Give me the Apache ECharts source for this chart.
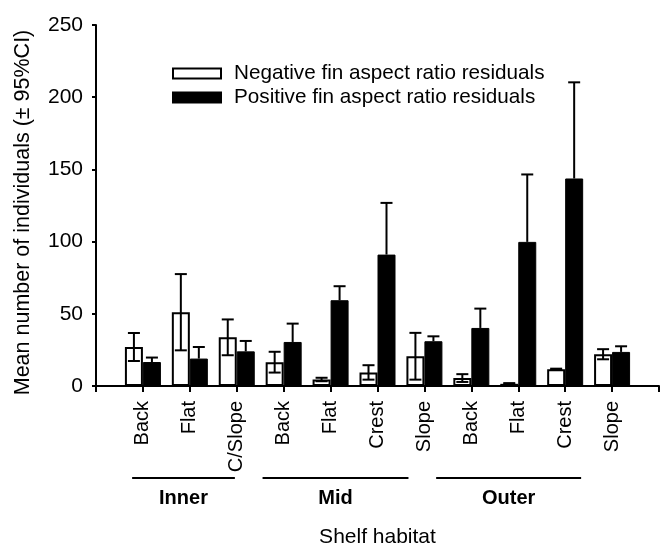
<!DOCTYPE html>
<html>
<head>
<meta charset="utf-8">
<script src="https://cdn.jsdelivr.net/npm/echarts@6/dist/echarts.min.js"></script>
<style>
html,body{margin:0;padding:0;background:#fff;}
#main{width:667px;height:549px;}
</style>
</head>
<body>
<div id="main"></div>
<script>
// Categories (padded with blank slots at both ends)
var categories = ['', 'Back', 'Flat', 'C/Slope', 'Back', 'Flat', 'Crest', 'Slope', 'Back', 'Flat', 'Crest', 'Slope', ''];
var negativeMeans = [27.0, 51.1, 33.7, 16.5, 4.5, 9.4, 20.6, 5.5, 1.5, 11.6, 22.0];
var negativeCI    = [9.7, 26.4, 12.4, 7.2, 1.2, 5.0, 16.2, 2.7, 0.5, 0.4, 3.5];
var positiveMeans = [16.6, 19.0, 24.0, 30.5, 59.4, 91.0, 31.0, 40.2, 99.8, 143.7, 23.6];
var positiveCI    = [3.1, 8.0, 7.2, 12.7, 9.7, 35.8, 3.4, 13.4, 46.7, 66.6, 3.9];
var yTicks = [0, 50, 100, 150, 200, 250];
var groupNames = ['Inner', 'Mid', 'Outer'];
var groupStart = [0.77, 3.55, 7.25];
var groupEnd   = [2.96, 6.66, 10.34];
var legendNames = ['Negative fin aspect ratio residuals', 'Positive fin aspect ratio residuals'];

var FONT = 'Liberation Sans, Arial, sans-serif';
var BAR_W = 18;

function padSeries(arr) { return [null].concat(arr).concat([null]); }

var negErrData = negativeMeans.map(function (v, i) { return [i + 1, v + negativeCI[i], v - negativeCI[i], 1]; });
var posErrData = positiveMeans.map(function (v, i) { return [i + 1, v + positiveCI[i], v, 0]; });

function errRender(side) {
  return function (params, api) {
    var x = api.value(0), hi = api.value(1), lo = api.value(2), lowCap = api.value(3);
    var pHi = api.coord([x, hi]);
    var pLo = api.coord([x, lo]);
    var cx = pHi[0] + side * BAR_W / 2;
    var cap = 6;
    var st = { stroke: '#000', lineWidth: 2 };
    var children = [
      { type: 'line', shape: { x1: cx, y1: pLo[1], x2: cx, y2: pHi[1] }, style: st },
      { type: 'line', shape: { x1: cx - cap, y1: pHi[1], x2: cx + cap, y2: pHi[1] }, style: st }
    ];
    if (lowCap) {
      children.push({ type: 'line', shape: { x1: cx - cap, y1: pLo[1], x2: cx + cap, y2: pLo[1] }, style: st });
    }
    return { type: 'group', children: children };
  };
}

var chart = echarts.init(document.getElementById('main'));
chart.setOption({
  animation: false,
  backgroundColor: '#fff',
  textStyle: { fontFamily: FONT, color: '#000' },
  grid: { left: 96, right: 8, top: 25, bottom: 163, outerBoundsMode: 'none', containLabel: false },
  legend: {
    orient: 'vertical',
    left: 167, top: 58,
    itemWidth: 48, itemHeight: 10,
    itemGap: 3,
    icon: 'rect',
    data: legendNames,
    textStyle: { fontFamily: FONT, fontSize: 20.7, color: '#000', padding: [0, 0, 0, 8] }
  },
  xAxis: {
    type: 'category',
    data: categories,
    boundaryGap: false,
    axisLine: { lineStyle: { color: '#000', width: 2 } },
    axisTick: { alignWithLabel: true, length: 6, lineStyle: { color: '#000', width: 2 } },
    axisLabel: { rotate: 90, margin: 15, fontSize: 20, color: '#000', fontFamily: FONT, interval: 0 },
    name: 'Shelf habitat',
    nameLocation: 'middle',
    nameGap: 141,
    nameTextStyle: { fontSize: 21, color: '#000', fontFamily: FONT }
  },
  yAxis: {
    type: 'value',
    min: 0, max: 250, interval: 50,
    axisLine: { show: true, lineStyle: { color: '#000', width: 2 } },
    axisTick: { show: true, length: 4, lineStyle: { color: '#000', width: 2 } },
    axisLabel: { fontSize: 21, color: '#000', margin: 13, fontFamily: FONT },
    splitLine: { show: false },
    name: 'Mean number of individuals (\u00b1 95%CI)',
    nameLocation: 'middle',
    nameGap: 62,
    nameTextStyle: { fontSize: 21.5, color: '#000', fontFamily: FONT, padding: [0, 14, 0, 0] }
  },
  series: [
    {
      name: legendNames[0], type: 'bar', barWidth: BAR_W, barGap: 0,
      data: padSeries(negativeMeans),
      itemStyle: { color: '#fff', borderColor: '#000', borderWidth: 2 }
    },
    {
      name: legendNames[1], type: 'bar', barWidth: BAR_W, barGap: 0,
      data: padSeries(positiveMeans),
      itemStyle: { color: '#000', borderColor: '#000', borderWidth: 1 }
    },
    { type: 'custom', renderItem: errRender(-1), data: negErrData, z: 5, silent: true },
    { type: 'custom', renderItem: errRender(1), data: posErrData, z: 5, silent: true }
  ]
});

// Group brackets below the category labels
var p0 = chart.convertToPixel({ xAxisIndex: 0 }, 0);
var p1 = chart.convertToPixel({ xAxisIndex: 0 }, 1);
var step = p1 - p0;
var baseY = chart.convertToPixel({ yAxisIndex: 0 }, 0);
var graphics = [];
groupNames.forEach(function (g, i) {
  var xs = p0 + groupStart[i] * step, xe = p0 + groupEnd[i] * step;
  graphics.push({ type: 'line', shape: { x1: xs, y1: baseY + 92, x2: xe, y2: baseY + 92 }, style: { stroke: '#000', lineWidth: 2 } });
  graphics.push({ type: 'text', x: (xs + xe) / 2, y: baseY + 112, style: { text: g, fontFamily: FONT, fontSize: 20, fontWeight: 'bold', fill: '#000', align: 'center', verticalAlign: 'middle' } });
});
chart.setOption({ graphic: graphics });
</script>
</body>
</html>
